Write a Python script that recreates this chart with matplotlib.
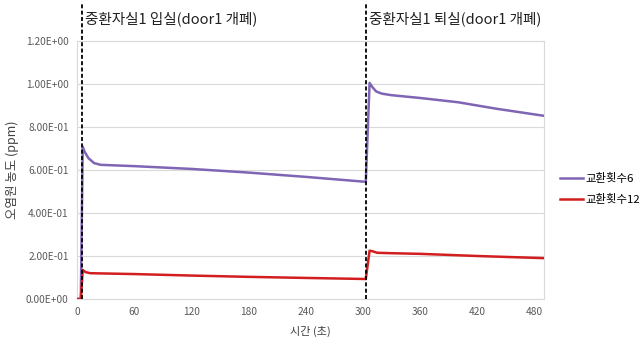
import matplotlib
matplotlib.use("Agg")
import matplotlib.pyplot as plt

plt.rcParams['font.family'] = ['Noto Sans CJK KR', 'DejaVu Sans']

# Data
t6 = [0, 4, 6, 8, 12, 18, 25, 60, 120, 180, 240, 303, 307, 310, 314, 320, 330, 360, 400, 440, 490]
conc6 = [0, 0, 0.708, 0.685, 0.655, 0.632, 0.624, 0.618, 0.605, 0.588, 0.568, 0.545,
         1.005, 0.985, 0.965, 0.955, 0.948, 0.935, 0.915, 0.885, 0.852]
t12 = [0, 4, 6, 9, 14, 25, 60, 120, 180, 240, 303, 307, 310, 315, 330, 360, 420, 490]
conc12 = [0, 0, 0.135, 0.125, 0.12, 0.119, 0.116, 0.109, 0.103, 0.098, 0.093,
          0.225, 0.222, 0.215, 0.213, 0.21, 0.2, 0.19]
series_names = ['교환횟수6', '교환횟수12']
events_t = [5, 303]
events_text = ['중환자실1 입실(door1 개폐)', '중환자실1 퇴실(door1 개폐)']
xticks = [0, 60, 120, 180, 240, 300, 360, 420, 480]
yticks = [0.0, 0.2, 0.4, 0.6, 0.8, 1.0, 1.2]
ytick_labels = ['0.00E+00', '2.00E-01', '4.00E-01', '6.00E-01', '8.00E-01', '1.00E+00', '1.20E+00']

fig = plt.figure(figsize=(6.43, 3.43), dpi=100)
ax = fig.add_axes([77/643, 1 - 299/343, (544-77)/643, (299-41)/343])

ax.plot(t6, conc6, color='#7F65B5', lw=1.8, label=series_names[0], zorder=3)
ax.plot(t12, conc12, color='#D21E1E', lw=1.8, label=series_names[1], zorder=3)

ax.set_xlim(0, 490)
ax.set_ylim(0, 1.2)
ax.set_xticks(xticks)
ax.set_yticks(yticks)
ax.set_yticklabels(ytick_labels)
ax.tick_params(axis='both', length=0, labelsize=7.3, colors='#595959', pad=6)
ax.grid(axis='y', color='#D9D9D9', lw=0.8)
ax.set_axisbelow(True)
for s in ax.spines.values():
    s.set_color('#D9D9D9')
    s.set_linewidth(0.8)

ax.set_xlabel('시간 (초)', fontsize=8, color='#404040', labelpad=6)
ax.set_ylabel('오염원 농도 (ppm)', fontsize=9, color='#404040', labelpad=5)

for te, txt in zip(events_t, events_text):
    ax.plot([te, te], [0, 1.37], color='black', ls=(0, (2.2, 1.3)), lw=1.3,
            clip_on=False, zorder=4)
    ax.text(te + 3, 1.305, txt, fontsize=10.5, color='#202020', ha='left', va='center',
            clip_on=False)

fig.legend(loc='center left', bbox_to_anchor=(550/643, 1 - 189/343), frameon=False,
           fontsize=8.2, handlelength=2.0, labelspacing=0.8, handletextpad=0.2)

fig.savefig('out.png', dpi=100)
